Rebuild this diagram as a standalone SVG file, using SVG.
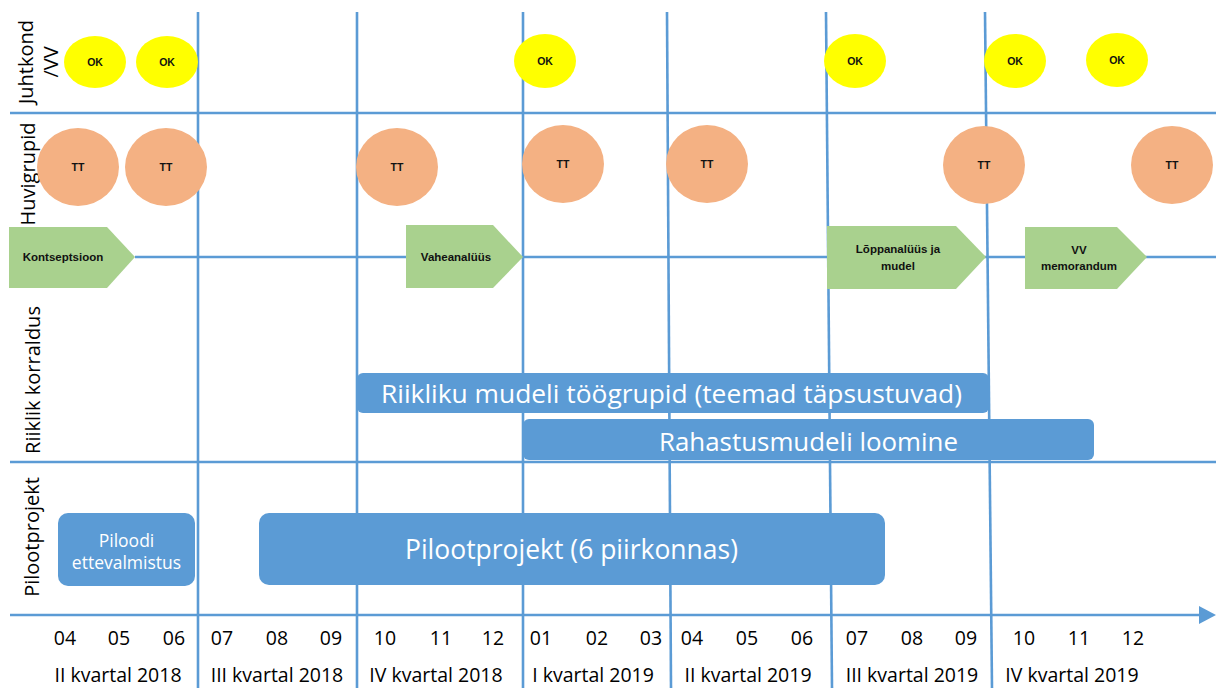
<svg xmlns="http://www.w3.org/2000/svg" width="1216" height="688" viewBox="0 0 1216 688">
<defs>
<style>
.grid{stroke:#5B9BD5;stroke-width:2.6;fill:none}
.ok{fill:#FFFF00}
.tt{fill:#F4B183}
.pent{fill:#A9D18E}
.bar{fill:#5B9BD5}
.small{font-family:"Liberation Sans",Arial,sans-serif;font-weight:bold;fill:#111;text-anchor:middle}
.lane{font-family:"Open Sans","Liberation Sans",sans-serif;font-size:20px;fill:#000;text-anchor:middle}
.barText{font-family:"Open Sans","Liberation Sans",sans-serif;fill:#fff;text-anchor:middle}
.axis{font-family:"Open Sans","Liberation Sans",sans-serif;font-size:19.5px;fill:#000}
</style>
</defs>
<rect width="1216" height="688" fill="#fff"/>

<g id="connectors">
<line class="grid" x1="10" y1="113" x2="1216" y2="113"/>
<line class="grid" x1="135" y1="257" x2="1216" y2="257"/>
<line class="grid" x1="10" y1="462" x2="1216" y2="462"/>
<line class="grid" x1="10" y1="615" x2="1201" y2="615"/>
<polygon points="1199,606 1216,615 1199,624" fill="#5B9BD5"/>
<line class="grid" x1="198" y1="12" x2="198" y2="688"/>
<line class="grid" x1="357" y1="12" x2="357" y2="688"/>
<line class="grid" x1="523" y1="12" x2="523" y2="688"/>
<line class="grid" x1="667" y1="12" x2="671" y2="688"/>
<line class="grid" x1="826" y1="12" x2="832" y2="688"/>
<line class="grid" x1="985" y1="12" x2="992" y2="688"/>
</g>

<g id="lane-labels">
<text class="lane" transform="translate(33,62) rotate(-90)">Juhtkond</text>
<text class="lane" transform="translate(58,62) rotate(-90)">/VV</text>
<text class="lane" transform="translate(35,174) rotate(-90)">Huvigrupid</text>
<text class="lane" transform="translate(40,380) rotate(-90)">Riiklik korraldus</text>
<text class="lane" transform="translate(39,537) rotate(-90)">Pilootprojekt</text>
</g>

<g id="ok1"><ellipse class="ok" cx="95" cy="62" rx="31" ry="26"/><text class="small" x="95" y="66" font-size="10.5">OK</text></g>
<g id="ok2"><ellipse class="ok" cx="167" cy="62" rx="31" ry="26"/><text class="small" x="167" y="66" font-size="10.5">OK</text></g>
<g id="ok3"><ellipse class="ok" cx="545" cy="61" rx="31" ry="27"/><text class="small" x="545" y="65" font-size="10.5">OK</text></g>
<g id="ok4"><ellipse class="ok" cx="855" cy="61" rx="31" ry="27"/><text class="small" x="855" y="65" font-size="10.5">OK</text></g>
<g id="ok5"><ellipse class="ok" cx="1015" cy="61" rx="31" ry="27"/><text class="small" x="1015" y="65" font-size="10.5">OK</text></g>
<g id="ok6"><ellipse class="ok" cx="1117" cy="60" rx="31" ry="27"/><text class="small" x="1117" y="64" font-size="10.5">OK</text></g>

<g id="tt1"><ellipse class="tt" cx="78" cy="167" rx="41" ry="39"/><text class="small" x="78" y="171" font-size="10.5">TT</text></g>
<g id="tt2"><ellipse class="tt" cx="166" cy="167" rx="41" ry="39"/><text class="small" x="166" y="171" font-size="10.5">TT</text></g>
<g id="tt3"><ellipse class="tt" cx="397" cy="167" rx="41" ry="39"/><text class="small" x="397" y="171" font-size="10.5">TT</text></g>
<g id="tt4"><ellipse class="tt" cx="563" cy="164" rx="41" ry="39"/><text class="small" x="563" y="168" font-size="10.5">TT</text></g>
<g id="tt5"><ellipse class="tt" cx="707" cy="164" rx="41" ry="39"/><text class="small" x="707" y="168" font-size="10.5">TT</text></g>
<g id="tt6"><ellipse class="tt" cx="984" cy="165" rx="41" ry="39"/><text class="small" x="984" y="169" font-size="10.5">TT</text></g>
<g id="tt7"><ellipse class="tt" cx="1172" cy="165" rx="41" ry="39"/><text class="small" x="1172" y="169" font-size="10.5">TT</text></g>

<g id="kontseptsioon"><polygon class="pent" points="9,227 107,227 135,257 107,288 9,288"/><text class="small" x="63" y="261" font-size="11.5">Kontseptsioon</text></g>
<g id="vaheanalyys"><polygon class="pent" points="406,225 493,225 523,257 493,288 406,288"/><text class="small" x="456" y="261" font-size="11.5">Vaheanalüüs</text></g>
<g id="loppanalyys"><polygon class="pent" points="827,226 956,226 986,257 956,289 827,289"/><text class="small" x="898" y="253" font-size="11.5">Lõppanalüüs ja</text><text class="small" x="898" y="270" font-size="11.5">mudel</text></g>
<g id="vv-memorandum"><polygon class="pent" points="1025,227 1117,227 1147,257 1117,289 1025,289"/><text class="small" x="1079" y="254" font-size="11.5">VV</text><text class="small" x="1079" y="270" font-size="11.5">memorandum</text></g>

<g id="riikliku-mudeli"><rect class="bar" x="357" y="373" width="632" height="40" rx="6"/><text class="barText" x="671.5" y="403" font-size="26" textLength="581" lengthAdjust="spacingAndGlyphs">Riikliku mudeli töögrupid (teemad täpsustuvad)</text></g>
<g id="rahastusmudel"><rect class="bar" x="523" y="419" width="571" height="41" rx="6"/><text class="barText" x="808.5" y="451" font-size="26" textLength="299" lengthAdjust="spacingAndGlyphs">Rahastusmudeli loomine</text></g>
<g id="piloodi"><rect class="bar" x="58" y="513" width="137" height="73" rx="10"/><text class="barText" x="126.5" y="547" font-size="17.5">Piloodi</text><text class="barText" x="126.5" y="569" font-size="17.5">ettevalmistus</text></g>
<g id="pilootprojekt"><rect class="bar" x="259" y="513" width="626" height="72" rx="10"/><text class="barText" x="571.5" y="559" font-size="26.5" textLength="333" lengthAdjust="spacingAndGlyphs">Pilootprojekt (6 piirkonnas)</text></g>

<g id="axis-labels" class="axis" text-anchor="middle">
<text x="65" y="645">04</text><text x="119" y="645">05</text><text x="174" y="645">06</text>
<text x="222" y="645">07</text><text x="277" y="645">08</text><text x="331" y="645">09</text>
<text x="385" y="645">10</text><text x="441" y="645">11</text><text x="493" y="645">12</text>
<text x="541" y="645">01</text><text x="597" y="645">02</text><text x="651" y="645">03</text>
<text x="692" y="645">04</text><text x="747" y="645">05</text><text x="802" y="645">06</text>
<text x="857" y="645">07</text><text x="912" y="645">08</text><text x="966" y="645">09</text>
<text x="1024" y="645">10</text><text x="1079" y="645">11</text><text x="1133" y="645">12</text>
<text x="118" y="682">II kvartal 2018</text>
<text x="277" y="682">III kvartal 2018</text>
<text x="436" y="682">IV kvartal 2018</text>
<text x="593" y="682">I kvartal 2019</text>
<text x="748" y="682">II kvartal 2019</text>
<text x="912" y="682">III kvartal 2019</text>
<text x="1072" y="682">IV kvartal 2019</text>
</g>
</svg>
